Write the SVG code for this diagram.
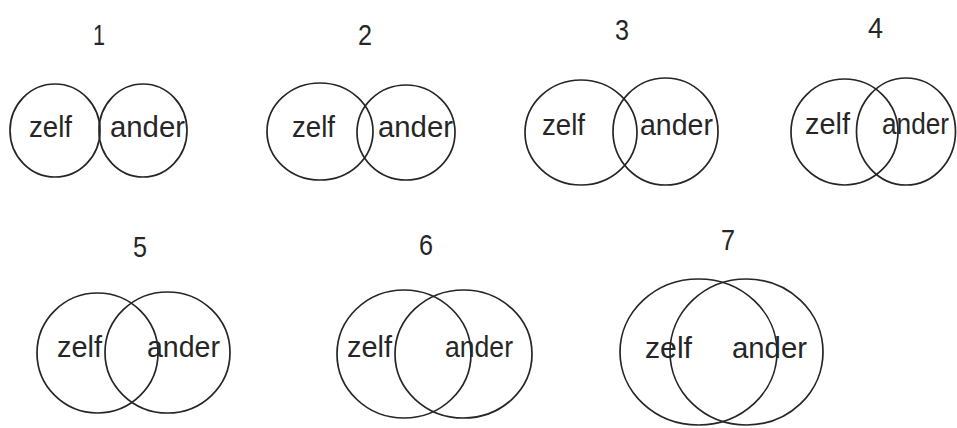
<svg xmlns="http://www.w3.org/2000/svg" width="957" height="428" viewBox="0 0 957 428">
<style>
.c{fill:none;stroke:#262626;stroke-width:1.7}
.t{font-family:"Liberation Sans",Arial,sans-serif;font-size:30px;fill:#262626}
.n{font-family:"Liberation Sans",Arial,sans-serif;font-size:30px;fill:#262626}
</style>
<rect width="957" height="428" fill="#fff"/>
<g id="pair1">
<text class="n" x="93" y="45" textLength="12" lengthAdjust="spacingAndGlyphs">1</text>
<ellipse class="c" cx="55" cy="130.5" rx="45" ry="46.5"/>
<ellipse class="c" cx="143" cy="130.5" rx="44" ry="46.5"/>
<text class="t" x="29" y="137" textLength="43" lengthAdjust="spacingAndGlyphs">zelf</text>
<text class="t" x="110" y="137" textLength="75" lengthAdjust="spacingAndGlyphs">ander</text>
</g>
<g id="pair2">
<text class="n" x="358" y="45" textLength="14" lengthAdjust="spacingAndGlyphs">2</text>
<ellipse class="c" cx="320" cy="131.5" rx="53" ry="48.5"/>
<ellipse class="c" cx="406" cy="132.5" rx="49" ry="47.5"/>
<text class="t" x="292" y="137" textLength="43" lengthAdjust="spacingAndGlyphs">zelf</text>
<text class="t" x="378" y="137" textLength="75" lengthAdjust="spacingAndGlyphs">ander</text>
</g>
<g id="pair3">
<text class="n" x="615" y="40" textLength="14" lengthAdjust="spacingAndGlyphs">3</text>
<ellipse class="c" cx="581" cy="132.5" rx="56" ry="52.5"/>
<ellipse class="c" cx="665.5" cy="131.5" rx="52.5" ry="53.5"/>
<text class="t" x="542" y="135" textLength="43" lengthAdjust="spacingAndGlyphs">zelf</text>
<text class="t" x="640" y="135" textLength="73" lengthAdjust="spacingAndGlyphs">ander</text>
</g>
<g id="pair4">
<text class="n" x="868" y="38" textLength="15" lengthAdjust="spacingAndGlyphs">4</text>
<ellipse class="c" cx="844.5" cy="132" rx="53.5" ry="53"/>
<ellipse class="c" cx="906" cy="131.5" rx="49.5" ry="53.5"/>
<text class="t" x="805" y="134" textLength="45" lengthAdjust="spacingAndGlyphs">zelf</text>
<text class="t" x="882" y="134" textLength="67" lengthAdjust="spacingAndGlyphs">ander</text>
</g>
<g id="pair5">
<text class="n" x="133" y="257" textLength="14" lengthAdjust="spacingAndGlyphs">5</text>
<ellipse class="c" cx="97.5" cy="353" rx="60.5" ry="60"/>
<ellipse class="c" cx="167.5" cy="352.5" rx="62.5" ry="60.5"/>
<text class="t" x="57" y="357" textLength="45" lengthAdjust="spacingAndGlyphs">zelf</text>
<text class="t" x="147" y="357" textLength="73" lengthAdjust="spacingAndGlyphs">ander</text>
</g>
<g id="pair6">
<text class="n" x="419" y="255" textLength="14" lengthAdjust="spacingAndGlyphs">6</text>
<ellipse class="c" cx="404" cy="354" rx="67" ry="64"/>
<ellipse class="c" cx="463.5" cy="354" rx="68.5" ry="64"/>
<text class="t" x="347" y="357" textLength="45" lengthAdjust="spacingAndGlyphs">zelf</text>
<text class="t" x="445" y="357" textLength="68" lengthAdjust="spacingAndGlyphs">ander</text>
</g>
<g id="pair7">
<text class="n" x="721" y="250" textLength="14" lengthAdjust="spacingAndGlyphs">7</text>
<ellipse class="c" cx="698.5" cy="352" rx="78.5" ry="73"/>
<ellipse class="c" cx="746.5" cy="352" rx="76.5" ry="73"/>
<text class="t" x="645" y="358" textLength="47" lengthAdjust="spacingAndGlyphs">zelf</text>
<text class="t" x="732" y="358" textLength="75" lengthAdjust="spacingAndGlyphs">ander</text>
</g>
</svg>
